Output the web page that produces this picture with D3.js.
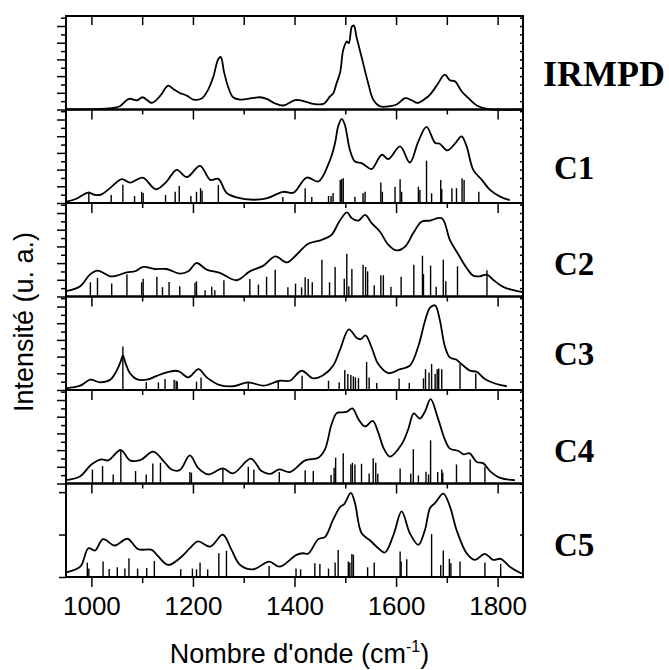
<!DOCTYPE html>
<html><head><meta charset="utf-8">
<script src="https://cdn.jsdelivr.net/npm/d3@7"></script>
<style>
html,body{margin:0;padding:0;background:#fff;}
svg{display:block;}
</style></head>
<body>
<svg id="chart" width="669" height="670"></svg>
<script>
// ---------- DATA (wavenumber cm-1, intensity as % of panel height) ----------
const panelLabels = ["IRMPD", "C1", "C2", "C3", "C4", "C5"];
const xTickMajor = [1000, 1200, 1400, 1600, 1800];
const xTickMinor = [1100, 1300, 1500, 1700];

const irmpdCurve = [[950,0],[1040,1.5],[1056,3.5],[1074,11.4],[1090,9.9],[1101,13.1],[1119,7.1],[1135,14.2],[1151,25.5],[1161,22],[1174,17.7],[1188,14.9],[1201,10.6],[1217,11.7],[1230,21.3],[1240,34.8],[1250,54],[1255,56.1],[1261,40.7],[1270,23.1],[1279,13.1],[1293,10.6],[1319,12.4],[1332,13.1],[1345,11.4],[1362,6.4],[1378,4.3],[1401,10],[1414,9.6],[1434,6.4],[1457,6],[1470,14],[1476,17],[1483,28.4],[1490,40],[1496,63.8],[1503,72.7],[1507,70.9],[1513,88.6],[1517,89.7],[1522,77.9],[1532,56.4],[1545,28.4],[1555,10.6],[1568,3.5],[1588,3.5],[1601,5.3],[1618,12.1],[1631,9.9],[1642,7.1],[1657,11.4],[1667,16],[1680,25.5],[1696,37.2],[1706,31.2],[1716,30.1],[1729,19.5],[1742,12.4],[1759,4.3],[1779,0.7],[1850,0]];

const c1Curve = [[950,1.5],[968,4],[994,11],[1007,8.6],[1020,9.3],[1040,17.5],[1060,25.5],[1076,21.8],[1101,27.2],[1127,14.7],[1148,22.9],[1168,35.5],[1188,27.6],[1214,39.8],[1234,24.7],[1250,25.8],[1266,11],[1286,6],[1319,3.5],[1345,5],[1378,12],[1398,11],[1424,27.2],[1447,23],[1470,46],[1480,64.5],[1486,82],[1493,90],[1499,84],[1509,57],[1519,44.4],[1532,42.7],[1542,39],[1552,36.2],[1572,51.6],[1585,47],[1608,60.5],[1627,43.3],[1644,66],[1660,81.4],[1677,64.2],[1686,63.4],[1701,56.2],[1716,63.4],[1729,71.3],[1739,60.5],[1752,35.5],[1769,24.7],[1785,14],[1805,6.8],[1824,3]];
const c1Sticks = [[995,12],[1039,8.6],[1062,19.4],[1085,7.5],[1099,12],[1102,10.8],[1146,8.6],[1165,12],[1173,18.3],[1196,7.5],[1207,12],[1215,15.8],[1218,13],[1250,19.4],[1377,6.5],[1421,15.8],[1434,6.5],[1467,7.5],[1472,7.5],[1476,10.8],[1490,24.7],[1493,25.8],[1496,26.5],[1519,6.8],[1535,10.4],[1539,12],[1570,21.8],[1573,12],[1598,17.5],[1608,25.5],[1611,12],[1644,17.5],[1647,14],[1660,45.2],[1670,10.4],[1688,24.7],[1690,15],[1710,15.8],[1719,15.8],[1730,26.5],[1734,24.7],[1763,12]];

const c2Curve = [[950,5.7],[978,11],[997,23.4],[1012,27.7],[1037,21.6],[1050,22.3],[1070,25.9],[1086,27],[1102,31.6],[1125,29.4],[1148,29.4],[1174,24.5],[1191,27],[1207,35.8],[1227,28.7],[1253,25.2],[1286,17.4],[1312,26.9],[1339,33],[1362,42.9],[1385,36.5],[1404,44.7],[1427,56.4],[1454,60.6],[1473,66],[1488,80],[1503,90],[1513,83.7],[1526,81.2],[1539,87.2],[1552,78.4],[1568,69.5],[1585,55.3],[1601,49.3],[1618,53.5],[1634,67.8],[1650,80],[1667,81.2],[1690,83.7],[1706,60.6],[1723,44.7],[1739,30.5],[1752,22.3],[1765,21.6],[1779,23.4],[1791,18],[1811,10.3],[1831,6.7],[1850,4.6]];
const c2Sticks = [[998,15.2],[1012,19.9],[1040,13.8],[1070,23.4],[1099,15.2],[1102,19.1],[1129,21],[1140,10],[1153,15.6],[1174,11],[1204,14.6],[1207,16.3],[1224,6.7],[1237,10.3],[1243,6.7],[1261,17.4],[1312,18.8],[1329,12.8],[1345,21],[1362,28.7],[1387,10],[1402,13.8],[1414,9.8],[1421,20.6],[1427,18.8],[1435,15.2],[1454,39.4],[1469,15.2],[1480,31.6],[1498,19.1],[1503,45.7],[1507,11],[1513,29.4],[1535,34],[1540,31.6],[1544,26.9],[1557,12],[1570,22.7],[1575,22.7],[1590,10.3],[1610,21],[1635,34],[1652,43.6],[1654,24],[1668,33],[1679,10.3],[1693,39.4],[1698,16.3],[1721,32.3],[1779,28]];

const c3Curve = [[950,1.8],[978,4.6],[998,11],[1017,8.2],[1037,11],[1050,21],[1058,31],[1062,37],[1067,29],[1076,18],[1089,11.7],[1109,11],[1129,15.2],[1148,18.8],[1165,20.6],[1174,19.5],[1191,13.5],[1211,22.3],[1227,13.5],[1253,5.3],[1279,4],[1309,8.2],[1339,4.6],[1371,9.9],[1391,9.9],[1414,20.6],[1437,12.4],[1457,16],[1476,25.9],[1490,43.6],[1507,64.9],[1522,56],[1530,54.3],[1540,58.5],[1552,45.4],[1565,27.7],[1585,18],[1608,22.3],[1627,25.9],[1644,47],[1657,73.7],[1667,88],[1677,90.4],[1686,75.5],[1696,47],[1706,34.8],[1719,32.3],[1729,27.7],[1746,20.6],[1759,19.5],[1775,11.7],[1798,6.4],[1818,4]];
const c3Sticks = [[1062,46.5],[1108,8.2],[1132,8.2],[1145,11.7],[1163,11],[1167,10],[1169,9],[1207,8.9],[1216,13.5],[1309,8.2],[1368,9.9],[1415,15.2],[1467,9.9],[1488,8.2],[1499,21.3],[1505,17],[1511,16],[1516,14.6],[1520,13.5],[1526,12.8],[1542,30.1],[1547,13.5],[1562,7.4],[1606,12.4],[1626,7.4],[1654,12.4],[1658,22.3],[1665,18.8],[1670,27.7],[1677,17],[1681,22.3],[1684,23],[1690,22.3],[1726,27.7],[1757,17.7]];

const c4Curve = [[950,3.5],[978,7.8],[1000,20.4],[1020,25.8],[1033,24.7],[1058,35.8],[1076,24.7],[1096,25],[1122,34],[1142,24],[1158,15],[1174,14.3],[1194,30.1],[1210,16.8],[1230,9.7],[1259,16.1],[1279,10.8],[1314,26.5],[1335,13.3],[1352,10.4],[1370,15],[1391,12.2],[1421,24.7],[1447,27.6],[1460,36.6],[1473,63.4],[1483,75.3],[1490,76],[1503,76.7],[1514,80.3],[1526,68.8],[1539,61],[1554,67],[1565,54.5],[1575,38.4],[1588,28.7],[1611,41.9],[1624,58],[1635,74.9],[1647,69.5],[1657,77],[1668,90.3],[1683,68.8],[1696,47.3],[1706,37.3],[1723,34.8],[1733,31.2],[1745,32.3],[1759,23],[1772,21.5],[1785,13.3],[1805,6],[1834,3.5]];
const c4Sticks = [[1002,15],[1022,18.6],[1043,9.7],[1058,35.8],[1087,13.3],[1108,9.7],[1121,21.5],[1136,22.2],[1194,12.2],[1197,11.5],[1259,15.8],[1309,18],[1320,15],[1370,12.2],[1421,14.3],[1437,13.3],[1472,9],[1478,16.8],[1481,27.6],[1496,32.3],[1511,20.4],[1514,22.2],[1519,20.4],[1532,21.1],[1547,10.8],[1555,26.9],[1560,22.2],[1564,10.4],[1608,16.1],[1629,10.4],[1634,36.6],[1644,8.6],[1659,12.5],[1664,9.7],[1668,46.2],[1682,12.2],[1690,15],[1692,11.5],[1719,20.4],[1746,25.8],[1775,18]];

const c5Curve = [[950,5],[978,11],[994,30.8],[1007,28.3],[1023,40.5],[1046,33.7],[1071,40.9],[1092,29.8],[1119,29],[1129,23.7],[1151,12.9],[1174,20.1],[1194,30.8],[1210,38],[1234,32.6],[1259,45.2],[1276,29],[1293,12.9],[1319,8.2],[1350,16.5],[1371,11],[1404,23.7],[1417,25.4],[1427,25],[1447,40.5],[1460,42.7],[1476,61.3],[1490,75],[1498,78],[1511,90],[1519,79.2],[1532,47],[1549,39],[1565,30.8],[1578,26.2],[1595,45.2],[1611,70.2],[1627,47],[1644,34.4],[1657,50.5],[1667,73.8],[1677,79.2],[1693,89.2],[1706,75.6],[1719,50.5],[1739,25.4],[1755,18.3],[1775,24.7],[1791,18.3],[1806,19.4],[1824,11],[1844,4.6],[1850,3.5]];
const c5Sticks = [[992,15.4],[995,9],[1023,16.5],[1035,8.6],[1051,10.4],[1066,9],[1074,20.1],[1091,9],[1109,9.7],[1124,17.2],[1176,8.2],[1199,9],[1207,8.2],[1214,15.4],[1229,8.2],[1251,25.4],[1266,28],[1350,11.8],[1403,9],[1412,8.2],[1440,14.7],[1450,14],[1467,9],[1480,15.4],[1486,29],[1506,16.5],[1509,15.4],[1513,24.7],[1516,23.7],[1544,10.4],[1557,15.4],[1608,27.2],[1610,16.5],[1621,19],[1670,45.9],[1688,12.9],[1693,28.3],[1705,19.4],[1708,14.7],[1726,16.5],[1775,15.4],[1806,14]];

const curves = [irmpdCurve, c1Curve, c2Curve, c3Curve, c4Curve, c5Curve];
const sticks = [null, c1Sticks, c2Sticks, c3Sticks, c4Sticks, c5Sticks];

// ---------- LAYOUT ----------
const X0 = 66, X1 = 523, TOP = 16, PH = 93.5;
const sans = "'Liberation Sans', Arial, Helvetica, sans-serif";
const serif = "'Liberation Serif', 'Times New Roman', serif";
const labelY = [86, 179, 275, 365, 462, 556];
const labelX = [543, 554, 554, 554, 554, 554];

const svg = d3.select("#chart");
svg.append("rect").attr("width",669).attr("height",670).attr("fill","#fff");

const x = d3.scaleLinear().domain([950, 1850]).range([X0, X1]);
const line = d3.line().curve(d3.curveCatmullRom.alpha(0.5));

panelLabels.forEach((name, i) => {
  const top = TOP + i*PH, bot = top + PH;
  const y = d3.scaleLinear().domain([0, 100]).range([bot, top]);
  const g = svg.append("g");

  // y ticks
  let major, minor;
  if (i < 5) {
    const step = 100/11.2;
    const all = d3.range(0, 12).map(k => k*step);
    major = all.filter((d,k) => k%2===0);
    minor = all.filter((d,k) => k%2===1);
  } else {
    major = [0, 45.4, 90.8];
    minor = [];
  }
  const axL = g.append("g").attr("transform", `translate(${X0},0)`)
    .call(d3.axisLeft(y).tickValues(major).tickSize(i<5?9:7).tickFormat(""));
  axL.append("g").call(d3.axisLeft(y).tickValues(minor).tickSize(5).tickFormat(""));
  const axR = g.append("g").attr("transform", `translate(${X1},0)`)
    .call(d3.axisLeft(y).tickValues(major.concat(minor)).tickSize(3).tickFormat(""));

  // x ticks at panel bottom (outward)
  const axB = g.append("g").attr("transform", `translate(0,${bot})`)
    .call(d3.axisBottom(x).tickValues(xTickMajor).tickSize(10).tickPadding(9.5)
      .tickFormat(i===5 ? d3.format("d") : ""));
  g.append("g").attr("transform", `translate(0,${bot})`)
    .call(d3.axisBottom(x).tickValues(xTickMinor).tickSize(i===5?6:5).tickFormat(""));
  if (i === 0) {
    g.append("g").attr("transform", `translate(0,${top})`)
      .call(d3.axisBottom(x).tickValues(xTickMajor.concat(xTickMinor)).tickSize(9).tickFormat(""));
  }
  g.selectAll(".domain").remove();
  g.selectAll(".tick line").attr("stroke","#000").attr("stroke-width",1.5);
  axB.selectAll(".tick text").attr("font-family", sans).attr("font-size", 26).attr("fill","#000");

  // sticks
  if (sticks[i]) {
    g.append("g").selectAll("line").data(sticks[i]).join("line")
      .attr("x1", d => x(d[0])).attr("x2", d => x(d[0]))
      .attr("y1", y(0)).attr("y2", d => y(d[1]))
      .attr("stroke", "#000").attr("stroke-width", 1.4);
  }
  // curve
  g.append("path").datum(curves[i].map(d => [x(d[0]), y(d[1])]))
    .attr("d", line).attr("fill","none").attr("stroke","#000").attr("stroke-width",1.8)
    .attr("stroke-linejoin","round");

  // frame
  g.append("rect").attr("x", X0).attr("y", top).attr("width", X1-X0).attr("height", PH)
    .attr("fill","none").attr("stroke","#000").attr("stroke-width",2);

  // label
  svg.append("text").attr("x", labelX[i]).attr("y", labelY[i])
    .attr("font-family", serif).attr("font-weight","bold")
    .attr("font-size", i===0 ? 36 : 33).attr("fill","#000").text(name);
});

// axis titles
const xt = svg.append("text").attr("x", (X0+X1)/2 + 5).attr("y", 663).attr("text-anchor","middle")
  .attr("font-family", sans).attr("font-size", 27).attr("fill","#000");
xt.append("tspan").text("Nombre d'onde (cm");
xt.append("tspan").attr("font-size", 16).attr("dy", -11).text("-1");
xt.append("tspan").attr("dy", 11).text(")");

svg.append("text").attr("transform", "translate(33,322) rotate(-90)").attr("text-anchor","middle")
  .attr("font-family", sans).attr("font-size", 27).attr("fill","#000").text("Intensité (u. a.)");
</script>
</body></html>
